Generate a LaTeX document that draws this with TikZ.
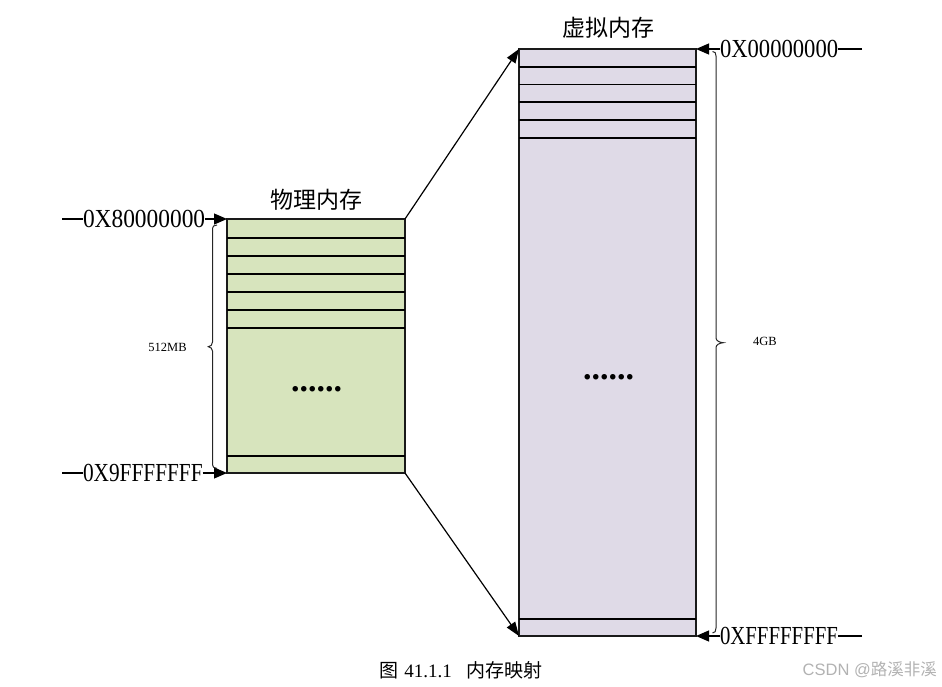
\documentclass[tikz,border=0pt]{standalone}
\usepackage{fontspec}
\setmainfont{Liberation Serif}
\newfontfamily\cjk{Noto Sans CJK SC}
\newfontfamily\wmfont{Liberation Sans}
\usepackage{graphicx}
\usetikzlibrary{arrows.meta,calc}
\definecolor{physfill}{HTML}{D7E4BD}
\definecolor{virtfill}{HTML}{DFDAE7}
\definecolor{edgec}{HTML}{1A1A1A}
\begin{document}
\begin{tikzpicture}[x=1pt,y=-1pt,
  membox/.style={draw=edgec, line width=1.5pt, inner sep=0pt, outer sep=0pt},
  part/.style={line width=1.3pt, draw=black},
  hexlabel/.style={inner sep=0pt, outer sep=0pt, font=\fontsize{26}{26}\selectfont},
  tick/.style={line width=1.1pt},
  pointer/.style={line width=1.1pt, -{Triangle[length=13pt,width=11pt]}},
  mapline/.style={line width=1.2pt, -{Triangle[length=14pt,width=10pt]}},
  memtitle/.style={font=\cjk\fontsize{23}{23}\selectfont, inner sep=0pt},
  sizelabel/.style={font=\fontsize{12.5}{12.5}\selectfont, inner sep=0pt},
  bracestyle/.style={line width=1pt, draw=black!85},
  dotrow/.style={font=\fontsize{34}{34}\selectfont\bfseries, inner sep=0pt, anchor=base}
]
\useasboundingbox (0,0) rectangle (942,687);

% boxes
\node[membox, fill=physfill, minimum width=178pt, minimum height=254pt] (phys) at (316,346) {};
\node[membox, fill=virtfill, minimum width=177pt, minimum height=587pt] (virt) at (607.5,342.5) {};

\foreach \d in {19,37,55,73,91,109,237}
  \draw[part] ([yshift=-\d pt]phys.north west) -- ([yshift=-\d pt]phys.north east);
\foreach \d in {18,35.5,53,71,89,570}
  \draw[part] ([yshift=-\d pt]virt.north west) -- ([yshift=-\d pt]virt.north east);

\node[dotrow] (pdots) at (316.5,391) {......};
\node[dotrow] (vdots) at (608.5,379) {......};

% titles
\node[memtitle] (ptitle) at (316,200) {物理内存};
\node[memtitle] (vtitle) at (608,28) {虚拟内存};

% address labels
\node[hexlabel, anchor=west] (a1) at (83,219) {\scalebox{0.9}[1]{0X80000000}};
\node[hexlabel, anchor=west] (a2) at (83,473) {\scalebox{0.82}[1]{0X9FFFFFFF}};
\node[hexlabel, anchor=west] (a3) at (720,49) {\scalebox{0.87}[1]{0X00000000}};
\node[hexlabel, anchor=west] (a4) at (720,636) {\scalebox{0.80}[1]{0XFFFFFFFF}};
\coordinate (a1s) at (62,219);
\coordinate (a2s) at (62,473);
\coordinate (a3s) at (862,49);
\coordinate (a4s) at (862,636);
\draw[tick] (a1s) -- (a1.west);
\draw[tick] (a2s) -- (a2.west);
\draw[tick] (a3s) -- (a3.east);
\draw[tick] (a4s) -- (a4.east);
\draw[pointer] (a1.east) -- (phys.north west);
\draw[pointer] (a2.east) -- (phys.south west);
\draw[pointer] (a3.west) -- (virt.north east);
\draw[pointer] (a4.west) -- (virt.south east);

% mapping
\draw[mapline] (phys.north east) -- (virt.north west);
\draw[mapline] (phys.south east) -- (virt.south west);

% braces
\draw[bracestyle] (217,225) .. controls (214,225) and (212.5,226) .. (212.5,230)
  -- (212.5,342) .. controls (212.5,345) and (210.5,346.5) .. (208.3,346.7)
  .. controls (210.5,347) and (212.5,348.5) .. (212.5,351)
  -- (212.5,463) .. controls (212.5,467) and (214,468.5) .. (217,468.5);
\draw[bracestyle] (712.5,51.5) .. controls (715,51.5) and (716,53) .. (716,56)
  -- (716,338) .. controls (716,341) and (720,342.5) .. (723.3,342.7)
  .. controls (720,343) and (716,344.5) .. (716,347.5)
  -- (716,628) .. controls (716,631) and (715,633) .. (712.5,633);

\node[sizelabel] (lbl512) at (167.5,347) {512MB};
\node[sizelabel] (lbl4) at (765,341) {4GB};

% caption
\node[font=\fontsize{19}{19}\selectfont, inner sep=0pt] (cap) at (461,670) {{\cjk 图}\hspace{0.3em}41.1.1\hspace{0.75em}{\cjk 内存映射}};
\node[font=\wmfont\fontsize{16.5}{16.5}\selectfont, text=black!30, anchor=east, inner sep=0pt] (wm) at (937,670) {CSDN @{\cjk 路溪非溪}};
\end{tikzpicture}
\end{document}
